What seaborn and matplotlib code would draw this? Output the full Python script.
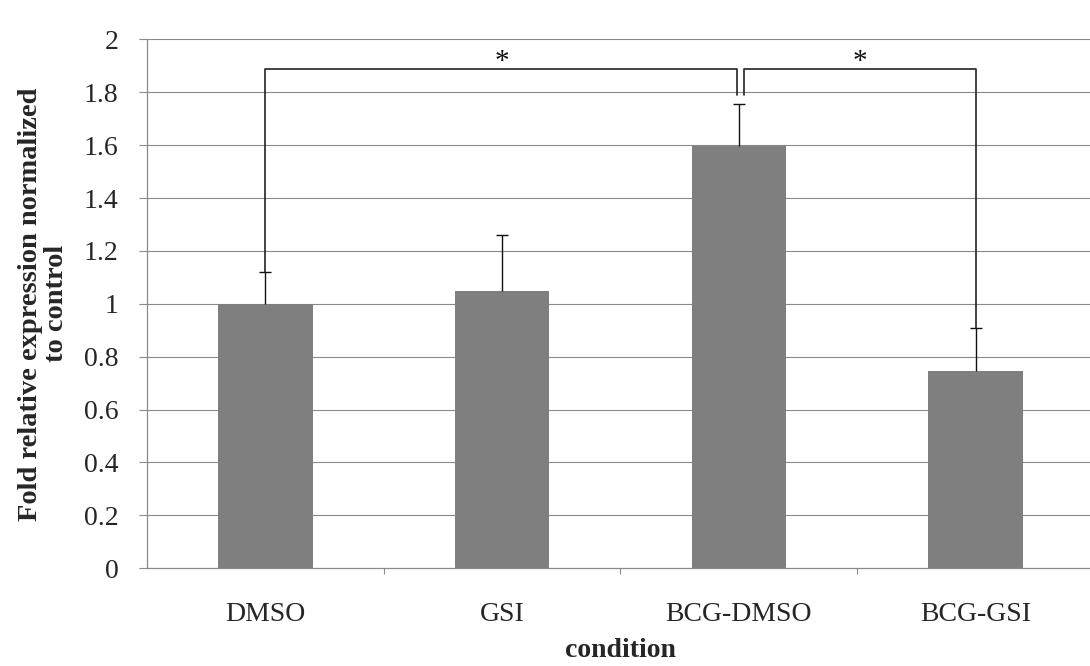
import matplotlib
matplotlib.use("Agg")
import matplotlib.pyplot as plt
import seaborn as sns
import numpy as np
import pandas as pd

# ---- data ----
conditions = ["DMSO", "GSI", "BCG-DMSO", "BCG-GSI"]
fold_expression = [1.00, 1.05, 1.595, 0.745]
error_upper = [0.12, 0.21, 0.16, 0.165]
y_ticks = [0, 0.2, 0.4, 0.6, 0.8, 1.0, 1.2, 1.4, 1.6, 1.8, 2.0]

sns.set_style("white")
plt.rcParams["font.family"] = ["Liberation Serif", "DejaVu Serif"]

df = pd.DataFrame({"condition": conditions, "fold": fold_expression})

fig = plt.figure(figsize=(10.9, 6.66), dpi=100)
ax = fig.add_axes([147 / 1090, (666 - 568.3) / 666, 947 / 1090, 529 / 666])

grid_c = "#8a8a8a"
ax.set_axisbelow(True)
for v in y_ticks[1:]:
    ax.axhline(v, color=grid_c, lw=0.8, zorder=0)

sns.barplot(data=df, x="condition", y="fold", color="#7f7f7f", saturation=1,
            width=0.4, errorbar=None, ax=ax, zorder=2, linewidth=0,
            edgecolor="none")

xs = np.arange(len(conditions))
eb = ax.errorbar(xs, fold_expression, yerr=[np.zeros(len(xs)), error_upper],
                 fmt="none", ecolor="#111111", elinewidth=1.0, capsize=4,
                 capthick=1.0, zorder=3)
# hide the caps sitting on the bar tops (one-sided error bars)
for cl in eb[1]:
    yd = np.asarray(cl.get_ydata(), dtype=float)
    if np.allclose(yd, fold_expression):
        cl.set_visible(False)

# significance brackets
tops = [f + e for f, e in zip(fold_expression, error_upper)]
h = 1.887
bc = "#222222"
ax.plot([0, 0, 1.99, 1.99], [tops[0], h, h, 1.79], color=bc, lw=1.2, zorder=4)
ax.plot([2.02, 2.02, 3, 3], [1.79, h, h, tops[3]], color=bc, lw=1.2, zorder=4)
ax.text(1.0, 1.866, "*", ha="center", va="bottom", fontsize=21, color="#111111")
ax.text(2.51, 1.866, "*", ha="center", va="bottom", fontsize=21, color="#111111")

ax.set_xlim(-0.5, 3.5)
ax.set_ylim(0, 2)
ax.set_yticks(y_ticks)
ax.set_yticklabels([f"{v:g}" for v in y_ticks])
ax.set_xticks(xs)
ax.set_xticklabels(conditions)
ax.set_xticks([0.5, 1.5, 2.5], minor=True)

ax.tick_params(axis="y", which="major", length=5.5, width=0.8, color=grid_c,
               labelsize=20, pad=15, direction="out", left=True)
ax.tick_params(axis="x", which="major", length=0, labelsize=20, pad=24)
ax.tick_params(axis="x", which="minor", length=4, width=0.8, color=grid_c,
               direction="out", bottom=True)

for s in ["top", "right"]:
    ax.spines[s].set_visible(False)
for s in ["left", "bottom"]:
    ax.spines[s].set_color(grid_c)
    ax.spines[s].set_linewidth(0.9)

ax.set_xlabel("condition", fontsize=20, fontweight="bold")
ax.xaxis.set_label_coords(0.5, -0.131)
ax.set_ylabel("Fold relative expression normalized\nto control", fontsize=20.5,
              fontweight="bold", linespacing=1.05)
ax.yaxis.set_label_coords(-0.082, 0.5)

fig.savefig("out.png", dpi=100)
